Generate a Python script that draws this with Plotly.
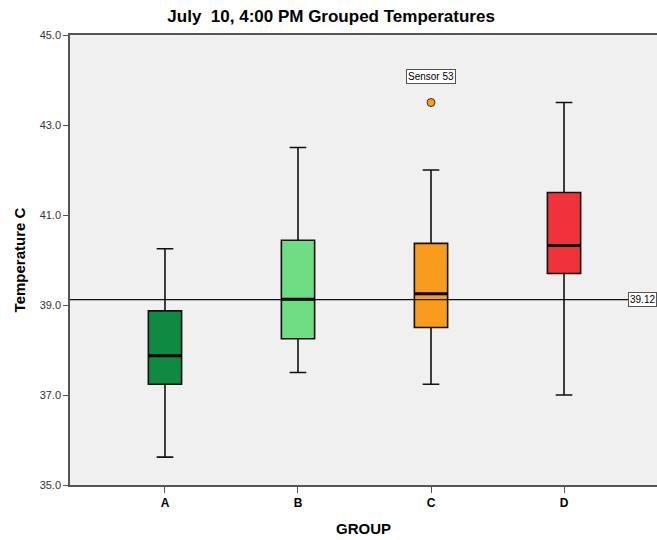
import plotly.graph_objects as go

# Five-number summaries per group (°C)
groups = ["A", "B", "C", "D"]
lower_whisker = [35.62, 37.50, 37.24, 37.00]
q1 = [37.24, 38.25, 38.50, 39.70]
median = [37.87, 39.13, 39.25, 40.32]
q3 = [38.87, 40.44, 40.37, 41.50]
upper_whisker = [40.25, 42.50, 42.00, 43.50]
colors = ["#0e8a43", "#6edd83", "#f99b1c", "#f0323b"]

# Flagged outlier
outlier_group = ["C"]
outlier_value = [43.5]
outlier_label = ["Sensor 53"]

# Overall mean reference line
ref_value = 39.12

BOX_W = 0.25

fig = go.Figure()
for i, g in enumerate(groups):
    fig.add_trace(go.Box(
        x=[g], q1=[q1[i]], median=[median[i]], q3=[q3[i]],
        lowerfence=[lower_whisker[i]], upperfence=[upper_whisker[i]],
        fillcolor=colors[i], line=dict(color="#111111", width=1.6),
        width=BOX_W, whiskerwidth=0.5, boxpoints=False,
        showlegend=False, hoverinfo="skip",
    ))

fig.add_trace(go.Scatter(
    x=outlier_group, y=outlier_value, mode="markers",
    marker=dict(size=8, color="#f99b1c", line=dict(color="#333333", width=1)),
    showlegend=False, hoverinfo="skip",
))

shapes = []
# Heavier median bars
for i, m in enumerate(median):
    shapes.append(dict(type="line", xref="x", yref="y",
                       x0=i - BOX_W / 2, x1=i + BOX_W / 2, y0=m, y1=m,
                       line=dict(color="#000000", width=3), layer="above"))
# Reference line
shapes.append(dict(type="line", xref="paper", yref="y", x0=0, x1=1,
                   y0=ref_value, y1=ref_value,
                   line=dict(color="#111111", width=1.2), layer="above"))

annotations = [
    dict(x=outlier_group[0], y=outlier_value[0] + 0.57, xref="x", yref="y",
         text=outlier_label[0], showarrow=False,
         font=dict(family="Liberation Sans", size=10, color="#000000"),
         bgcolor="#ffffff", bordercolor="#555555", borderwidth=1, borderpad=1),
    dict(x=1, y=ref_value, xref="paper", yref="y", xanchor="right",
         text=f"{ref_value:.2f}", showarrow=False,
         font=dict(family="Liberation Sans", size=10, color="#000000"),
         bgcolor="#ffffff", bordercolor="#555555", borderwidth=1, borderpad=1),
]

fig.update_layout(
    width=657, height=540,
    margin=dict(l=70, r=0, t=35, b=55),
    paper_bgcolor="#ffffff", plot_bgcolor="#f0f0f0",
    boxmode="overlay",
    title=dict(text="July\u00a0 10, 4:00 PM Grouped Temperatures",
               x=0.504, xanchor="center", y=0.97, yanchor="middle",
               font=dict(family="Liberation Sans", size=17, color="#000000", weight="bold")),
    shapes=shapes, annotations=annotations,
    xaxis=dict(
        type="category", categoryorder="array", categoryarray=groups,
        range=[-0.714, 3.699], showgrid=False, zeroline=False,
        showline=True, linecolor="#555555", linewidth=1.5, mirror=True,
        ticks="outside", ticklen=6, tickcolor="#555555",
        tickfont=dict(family="Liberation Sans", size=12, color="#000000", weight="bold"),
        title=dict(text="GROUP", standoff=14,
                   font=dict(family="Liberation Sans", size=15, color="#000000", weight="bold")),
    ),
    yaxis=dict(
        range=[35, 45], tickvals=[35, 37, 39, 41, 43, 45],
        ticktext=["35.0", "37.0", "39.0", "41.0", "43.0", "45.0"],
        showgrid=False, zeroline=False,
        showline=True, linecolor="#555555", linewidth=1.5,
        ticks="outside", ticklen=5, tickcolor="#555555",
        tickfont=dict(family="Liberation Sans Narrow, Liberation Sans", size=11, color="#333333"),
        title=dict(text="Temperature C", standoff=10,
                   font=dict(family="Liberation Sans", size=15, color="#000000", weight="bold")),
    ),
)

fig.write_html("out.html")
